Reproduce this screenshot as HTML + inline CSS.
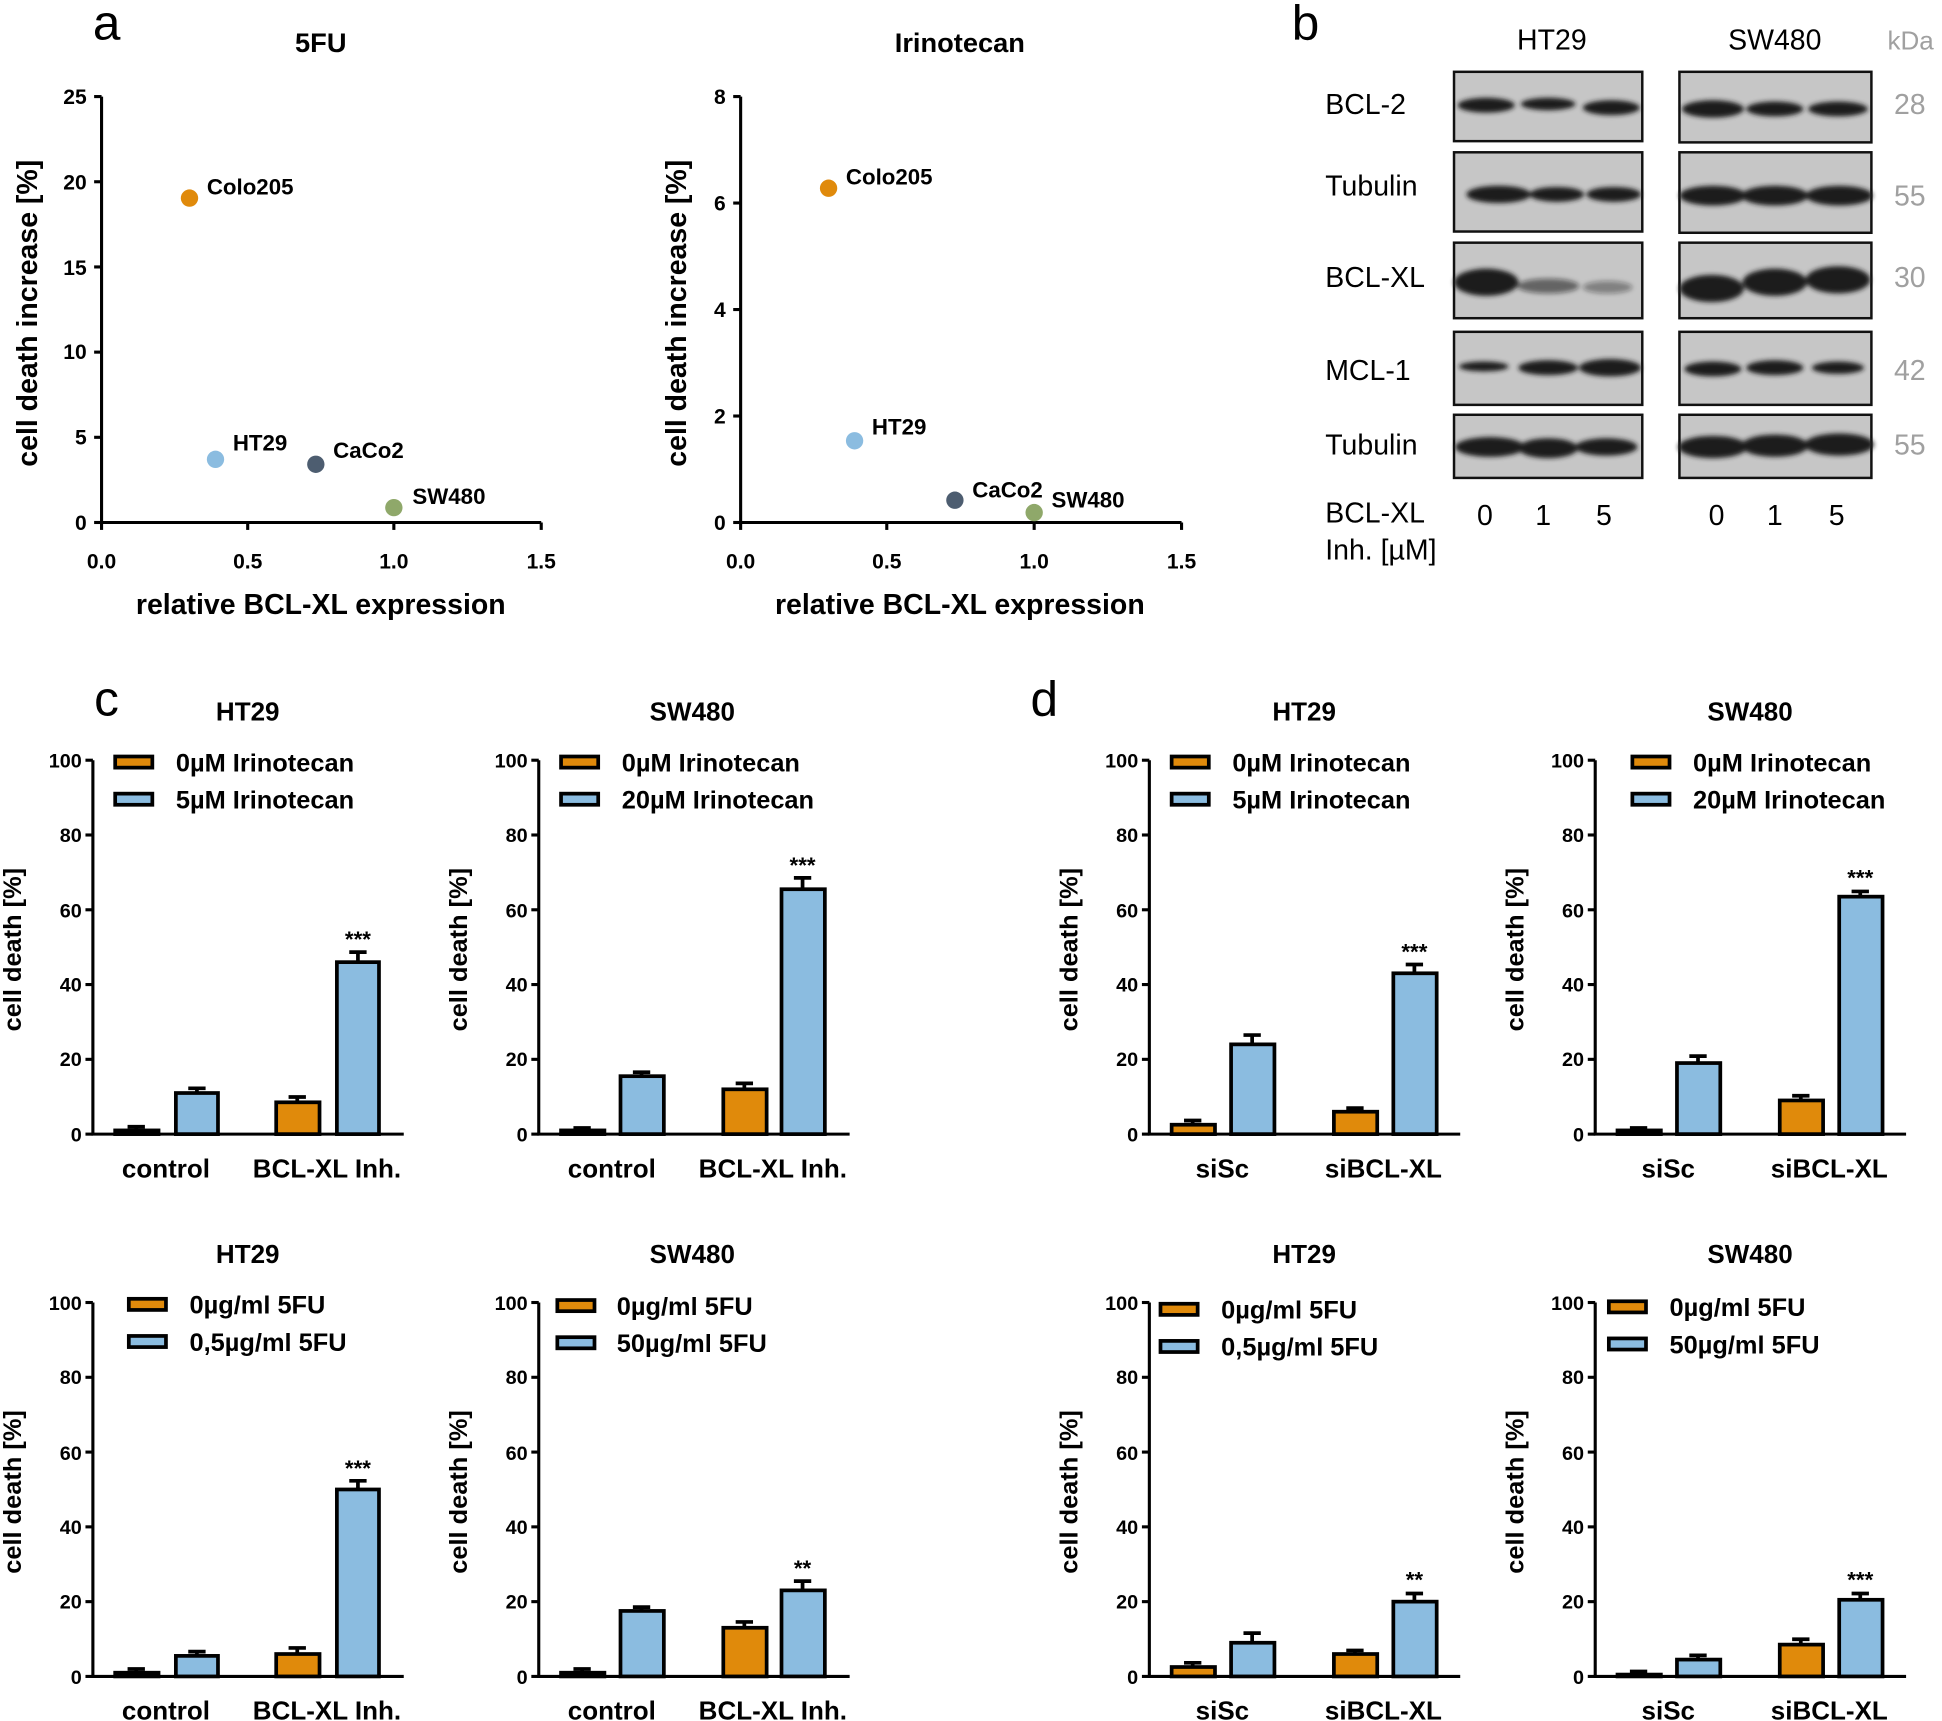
<!DOCTYPE html>
<html><head><meta charset="utf-8"><style>
html,body{margin:0;padding:0;background:#fff}
svg{display:block}
text{font-family:"Liberation Sans",Arial,sans-serif}
.t{font-size:16px;font-weight:bold;text-anchor:end}
.c{font-size:21px;font-weight:bold;text-anchor:middle}
.lg{font-size:20.5px;font-weight:bold}
.yl{font-size:20.5px;font-weight:bold;text-anchor:middle}
.bl{font-size:23px}
.kd{font-size:23px;fill:#a0a0a0}
.ax line,.ax path{stroke:#000;stroke-width:2.5;fill:none}
.o{fill:#E08A0B;stroke:#000;stroke-width:3}
.u{fill:#8BBCE0;stroke:#000;stroke-width:3}
.e{stroke:#000;stroke-width:3;fill:none}
.band{fill:#1a1a1a}
.blot{fill:#c6c6c6;stroke:#111;stroke-width:2}
</style></head><body>
<svg width="1942" height="1721" viewBox="0 0 1568 1390" preserveAspectRatio="none" xmlns="http://www.w3.org/2000/svg">
<defs><filter id="bl" x="-20%" y="-50%" width="140%" height="200%"><feGaussianBlur stdDeviation="2"/></filter></defs>
<!-- panel a -->
<text x="75" y="32" font-size="40">a</text>
<text x="259" y="42" class="c" style="font-size:22px">5FU</text>
<g class="ax"><path d="M82,78 V422 H437"/>
<line x1="76" y1="422" x2="82" y2="422"/><line x1="76" y1="353.2" x2="82" y2="353.2"/><line x1="76" y1="284.4" x2="82" y2="284.4"/><line x1="76" y1="215.6" x2="82" y2="215.6"/><line x1="76" y1="146.8" x2="82" y2="146.8"/><line x1="76" y1="78" x2="82" y2="78"/>
<line x1="82" y1="422" x2="82" y2="428"/><line x1="200" y1="422" x2="200" y2="428"/><line x1="318" y1="422" x2="318" y2="428"/><line x1="437" y1="422" x2="437" y2="428"/></g>
<g class="t" style="font-size:17px"><text x="70" y="428">0</text><text x="70" y="359">5</text><text x="70" y="290">10</text><text x="70" y="222">15</text><text x="70" y="153">20</text><text x="70" y="84">25</text></g>
<g class="c" style="font-size:17px"><text x="82" y="459">0.0</text><text x="200" y="459">0.5</text><text x="318" y="459">1.0</text><text x="437" y="459">1.5</text></g>
<text x="259" y="496" class="c" style="font-size:23px">relative BCL-XL expression</text>
<text transform="translate(30,253) rotate(-90)" class="yl" style="font-size:23px">cell death increase [%]</text>
<circle cx="153" cy="160" r="7" fill="#E08A0B"/><circle cx="174" cy="371" r="7" fill="#8BBCE0"/><circle cx="255" cy="375" r="7" fill="#4d5d70"/><circle cx="318" cy="410" r="7" fill="#8fa86a"/>
<g class="lg" style="font-size:18px"><text x="167" y="157">Colo205</text><text x="188" y="364">HT29</text><text x="269" y="370">CaCo2</text><text x="333" y="407">SW480</text></g>

<text x="775" y="42" class="c" style="font-size:22px">Irinotecan</text>
<g class="ax"><path d="M598,78 V422 H954"/>
<line x1="592" y1="422" x2="598" y2="422"/><line x1="592" y1="336" x2="598" y2="336"/><line x1="592" y1="250" x2="598" y2="250"/><line x1="592" y1="164" x2="598" y2="164"/><line x1="592" y1="78" x2="598" y2="78"/>
<line x1="598" y1="422" x2="598" y2="428"/><line x1="716" y1="422" x2="716" y2="428"/><line x1="835" y1="422" x2="835" y2="428"/><line x1="954" y1="422" x2="954" y2="428"/></g>
<g class="t" style="font-size:17px"><text x="586" y="428">0</text><text x="586" y="342">2</text><text x="586" y="256">4</text><text x="586" y="170">6</text><text x="586" y="84">8</text></g>
<g class="c" style="font-size:17px"><text x="598" y="459">0.0</text><text x="716" y="459">0.5</text><text x="835" y="459">1.0</text><text x="954" y="459">1.5</text></g>
<text x="775" y="496" class="c" style="font-size:23px">relative BCL-XL expression</text>
<text transform="translate(554,253) rotate(-90)" class="yl" style="font-size:23px">cell death increase [%]</text>
<circle cx="669" cy="152" r="7" fill="#E08A0B"/><circle cx="690" cy="356" r="7" fill="#8BBCE0"/><circle cx="771" cy="404" r="7" fill="#4d5d70"/><circle cx="835" cy="414" r="7" fill="#8fa86a"/>
<g class="lg" style="font-size:18px"><text x="683" y="149">Colo205</text><text x="704" y="351">HT29</text><text x="785" y="402">CaCo2</text><text x="849" y="410">SW480</text></g>

<!-- panel b -->
<text x="1043" y="32" font-size="40">b</text>
<text x="1253" y="40" class="bl" text-anchor="middle">HT29</text>
<text x="1433" y="40" class="bl" text-anchor="middle">SW480</text>
<text x="1524" y="40" class="kd" style="font-size:21px">kDa</text>
<g class="bl"><text x="1070" y="92">BCL-2</text><text x="1070" y="158">Tubulin</text><text x="1070" y="232">BCL-XL</text><text x="1070" y="307">MCL-1</text><text x="1070" y="367">Tubulin</text>
<text x="1070" y="422">BCL-XL</text><text x="1070" y="452">Inh. [µM]</text>
<text x="1199" y="424" text-anchor="middle">0</text><text x="1246" y="424" text-anchor="middle">1</text><text x="1295" y="424" text-anchor="middle">5</text>
<text x="1386" y="424" text-anchor="middle">0</text><text x="1433" y="424" text-anchor="middle">1</text><text x="1483" y="424" text-anchor="middle">5</text></g>
<g class="kd" text-anchor="middle"><text x="1542" y="92">28</text><text x="1542" y="166">55</text><text x="1542" y="232">30</text><text x="1542" y="307">42</text><text x="1542" y="367">55</text></g>
<rect class="blot" x="1174" y="58" width="152" height="56"/><rect class="blot" x="1356" y="58" width="155" height="57"/>
<rect class="blot" x="1174" y="123" width="152" height="64"/><rect class="blot" x="1356" y="123" width="155" height="65"/>
<rect class="blot" x="1174" y="196" width="152" height="61"/><rect class="blot" x="1356" y="196" width="155" height="61"/>
<rect class="blot" x="1174" y="268" width="152" height="59"/><rect class="blot" x="1356" y="268" width="155" height="59"/>
<rect class="blot" x="1174" y="335" width="152" height="51"/><rect class="blot" x="1356" y="335" width="155" height="51"/>
<g class="band" filter="url(#bl)">
<ellipse cx="1200" cy="85" rx="23" ry="6"/><ellipse cx="1250" cy="84" rx="22" ry="5"/><ellipse cx="1301" cy="87" rx="23" ry="6"/>
<ellipse cx="1383" cy="88" rx="25" ry="7"/><ellipse cx="1433" cy="88" rx="23" ry="6"/><ellipse cx="1484" cy="88" rx="24" ry="6"/>
<ellipse cx="1210" cy="157" rx="26" ry="7"/><ellipse cx="1257" cy="157" rx="22" ry="6"/><ellipse cx="1303" cy="157" rx="22" ry="6"/>
<ellipse cx="1383" cy="158" rx="27" ry="8"/><ellipse cx="1433" cy="158" rx="27" ry="8"/><ellipse cx="1485" cy="158" rx="27" ry="8"/>
<ellipse cx="1200" cy="228" rx="26" ry="11"/><ellipse cx="1250" cy="231" rx="25" ry="6" opacity=".55"/><ellipse cx="1298" cy="232" rx="20" ry="5" opacity=".4"/>
<ellipse cx="1382" cy="233" rx="26" ry="11"/><ellipse cx="1433" cy="228" rx="26" ry="11"/><ellipse cx="1484" cy="226" rx="26" ry="11"/>
<ellipse cx="1198" cy="296" rx="20" ry="4"/><ellipse cx="1250" cy="297" rx="24" ry="6"/><ellipse cx="1300" cy="297" rx="25" ry="7"/>
<ellipse cx="1383" cy="298" rx="23" ry="6"/><ellipse cx="1433" cy="297" rx="23" ry="6"/><ellipse cx="1484" cy="297" rx="21" ry="5"/>
<ellipse cx="1203" cy="361" rx="28" ry="8"/><ellipse cx="1250" cy="362" rx="24" ry="8"/><ellipse cx="1297" cy="361" rx="25" ry="7"/>
<ellipse cx="1383" cy="361" rx="28" ry="9"/><ellipse cx="1433" cy="360" rx="27" ry="9"/><ellipse cx="1485" cy="359" rx="28" ry="9"/>
</g>

<text x="76" y="578" font-size="40">c</text>
<text x="832" y="578" font-size="40">d</text>

<!-- Row 1 -->
<text x="200" y="582" class="c">HT29</text>
<text transform="translate(17,767) rotate(-90)" class="yl">cell death [%]</text>
<rect x="93" y="611" width="30" height="9" class="o"/><rect x="93" y="641" width="30" height="9" class="u"/>
<text x="142" y="623" class="lg">0µM Irinotecan</text><text x="142" y="653" class="lg">5µM Irinotecan</text>
<g transform="translate(75,916)">
<g class="ax"><path d="M0,-302 V0 H251"/><line x1="-6" y1="0" x2="0" y2="0"/><line x1="-6" y1="-60.4" x2="0" y2="-60.4"/><line x1="-6" y1="-120.8" x2="0" y2="-120.8"/><line x1="-6" y1="-181.2" x2="0" y2="-181.2"/><line x1="-6" y1="-241.6" x2="0" y2="-241.6"/><line x1="-6" y1="-302" x2="0" y2="-302"/></g>
<g class="t"><text x="-9" y="6">0</text><text x="-9" y="-55">20</text><text x="-9" y="-115">40</text><text x="-9" y="-175">60</text><text x="-9" y="-236">80</text><text x="-9" y="-296">100</text></g>
<rect class="o" x="18" y="-3" width="35" height="3"/><path class="e" d="M35,-3V-6M28,-6H42"/>
<rect class="u" x="67" y="-33.2" width="34" height="33.2"/><path class="e" d="M84,-33V-37M77,-37H91"/>
<rect class="o" x="148" y="-25.7" width="35" height="25.7"/><path class="e" d="M165,-26V-30M158,-30H172"/>
<rect class="u" x="197" y="-138.9" width="34" height="138.9"/><path class="e" d="M214,-139V-147M207,-147H221"/>
<text x="214" y="-151" class="c" style="font-size:18px">***</text>
<text x="59" y="35" class="c">control</text><text x="189" y="35" class="c">BCL-XL Inh.</text></g>

<text x="559" y="582" class="c">SW480</text>
<text transform="translate(377,767) rotate(-90)" class="yl">cell death [%]</text>
<rect x="453" y="611" width="30" height="9" class="o"/><rect x="453" y="641" width="30" height="9" class="u"/>
<text x="502" y="623" class="lg">0µM Irinotecan</text><text x="502" y="653" class="lg">20µM Irinotecan</text>
<g transform="translate(435,916)">
<g class="ax"><path d="M0,-302 V0 H251"/><line x1="-6" y1="0" x2="0" y2="0"/><line x1="-6" y1="-60.4" x2="0" y2="-60.4"/><line x1="-6" y1="-120.8" x2="0" y2="-120.8"/><line x1="-6" y1="-181.2" x2="0" y2="-181.2"/><line x1="-6" y1="-241.6" x2="0" y2="-241.6"/><line x1="-6" y1="-302" x2="0" y2="-302"/></g>
<g class="t"><text x="-9" y="6">0</text><text x="-9" y="-55">20</text><text x="-9" y="-115">40</text><text x="-9" y="-175">60</text><text x="-9" y="-236">80</text><text x="-9" y="-296">100</text></g>
<rect class="o" x="18" y="-3" width="35" height="3"/><path class="e" d="M35,-3V-5M28,-5H42"/>
<rect class="u" x="66" y="-46.8" width="35" height="46.8"/><path class="e" d="M83,-47V-50M76,-50H90"/>
<rect class="o" x="149" y="-36.2" width="35" height="36.2"/><path class="e" d="M166,-36V-41M159,-41H173"/>
<rect class="u" x="196" y="-197.8" width="35" height="197.8"/><path class="e" d="M213,-198V-207M206,-207H220"/>
<text x="213" y="-211" class="c" style="font-size:18px">***</text>
<text x="59" y="35" class="c">control</text><text x="189" y="35" class="c">BCL-XL Inh.</text></g>

<text x="1053" y="582" class="c">HT29</text>
<text transform="translate(870,767) rotate(-90)" class="yl">cell death [%]</text>
<rect x="946" y="611" width="30" height="9" class="o"/><rect x="946" y="641" width="30" height="9" class="u"/>
<text x="995" y="623" class="lg">0µM Irinotecan</text><text x="995" y="653" class="lg">5µM Irinotecan</text>
<g transform="translate(928,916)">
<g class="ax"><path d="M0,-302 V0 H251"/><line x1="-6" y1="0" x2="0" y2="0"/><line x1="-6" y1="-60.4" x2="0" y2="-60.4"/><line x1="-6" y1="-120.8" x2="0" y2="-120.8"/><line x1="-6" y1="-181.2" x2="0" y2="-181.2"/><line x1="-6" y1="-241.6" x2="0" y2="-241.6"/><line x1="-6" y1="-302" x2="0" y2="-302"/></g>
<g class="t"><text x="-9" y="6">0</text><text x="-9" y="-55">20</text><text x="-9" y="-115">40</text><text x="-9" y="-175">60</text><text x="-9" y="-236">80</text><text x="-9" y="-296">100</text></g>
<rect class="o" x="18" y="-7.6" width="35" height="7.6"/><path class="e" d="M35,-8V-11M28,-11H42"/>
<rect class="u" x="66" y="-72.5" width="35" height="72.5"/><path class="e" d="M83,-72V-80M76,-80H90"/>
<rect class="o" x="149" y="-18.1" width="35" height="18.1"/><path class="e" d="M166,-18V-21M159,-21H173"/>
<rect class="u" x="197" y="-129.9" width="35" height="129.9"/><path class="e" d="M214,-130V-137M207,-137H221"/>
<text x="214" y="-141" class="c" style="font-size:18px">***</text>
<text x="59" y="35" class="c">siSc</text><text x="189" y="35" class="c">siBCL-XL</text></g>

<text x="1413" y="582" class="c">SW480</text>
<text transform="translate(1230,767) rotate(-90)" class="yl">cell death [%]</text>
<rect x="1318" y="611" width="30" height="9" class="o"/><rect x="1318" y="641" width="30" height="9" class="u"/>
<text x="1367" y="623" class="lg">0µM Irinotecan</text><text x="1367" y="653" class="lg">20µM Irinotecan</text>
<g transform="translate(1288,916)">
<g class="ax"><path d="M0,-302 V0 H251"/><line x1="-6" y1="0" x2="0" y2="0"/><line x1="-6" y1="-60.4" x2="0" y2="-60.4"/><line x1="-6" y1="-120.8" x2="0" y2="-120.8"/><line x1="-6" y1="-181.2" x2="0" y2="-181.2"/><line x1="-6" y1="-241.6" x2="0" y2="-241.6"/><line x1="-6" y1="-302" x2="0" y2="-302"/></g>
<g class="t"><text x="-9" y="6">0</text><text x="-9" y="-55">20</text><text x="-9" y="-115">40</text><text x="-9" y="-175">60</text><text x="-9" y="-236">80</text><text x="-9" y="-296">100</text></g>
<rect class="o" x="18" y="-3" width="35" height="3"/><path class="e" d="M35,-3V-5M28,-5H42"/>
<rect class="u" x="66" y="-57.4" width="35" height="57.4"/><path class="e" d="M83,-57V-63M76,-63H90"/>
<rect class="o" x="149" y="-27.2" width="35" height="27.2"/><path class="e" d="M166,-27V-31M159,-31H173"/>
<rect class="u" x="197" y="-191.8" width="35" height="191.8"/><path class="e" d="M214,-192V-196M207,-196H221"/>
<text x="214" y="-201" class="c" style="font-size:18px">***</text>
<text x="59" y="35" class="c">siSc</text><text x="189" y="35" class="c">siBCL-XL</text></g>

<!-- Row 2 -->
<text x="200" y="1020" class="c">HT29</text>
<text transform="translate(17,1205) rotate(-90)" class="yl">cell death [%]</text>
<rect x="104" y="1049" width="30" height="9" class="o"/><rect x="104" y="1079" width="30" height="9" class="u"/>
<text x="153" y="1061" class="lg">0µg/ml 5FU</text><text x="153" y="1091" class="lg">0,5µg/ml 5FU</text>
<g transform="translate(75,1354)">
<g class="ax"><path d="M0,-302 V0 H251"/><line x1="-6" y1="0" x2="0" y2="0"/><line x1="-6" y1="-60.4" x2="0" y2="-60.4"/><line x1="-6" y1="-120.8" x2="0" y2="-120.8"/><line x1="-6" y1="-181.2" x2="0" y2="-181.2"/><line x1="-6" y1="-241.6" x2="0" y2="-241.6"/><line x1="-6" y1="-302" x2="0" y2="-302"/></g>
<g class="t"><text x="-9" y="6">0</text><text x="-9" y="-55">20</text><text x="-9" y="-115">40</text><text x="-9" y="-175">60</text><text x="-9" y="-236">80</text><text x="-9" y="-296">100</text></g>
<rect class="o" x="18" y="-3" width="35" height="3"/><path class="e" d="M35,-3V-6M28,-6H42"/>
<rect class="u" x="67" y="-16.6" width="34" height="16.6"/><path class="e" d="M84,-17V-20M77,-20H91"/>
<rect class="o" x="148" y="-18.1" width="35" height="18.1"/><path class="e" d="M165,-18V-23M158,-23H172"/>
<rect class="u" x="197" y="-151" width="34" height="151"/><path class="e" d="M214,-151V-158M207,-158H221"/>
<text x="214" y="-162" class="c" style="font-size:18px">***</text>
<text x="59" y="35" class="c">control</text><text x="189" y="35" class="c">BCL-XL Inh.</text></g>

<text x="559" y="1020" class="c">SW480</text>
<text transform="translate(377,1205) rotate(-90)" class="yl">cell death [%]</text>
<rect x="450" y="1050" width="30" height="9" class="o"/><rect x="450" y="1080" width="30" height="9" class="u"/>
<text x="498" y="1062" class="lg">0µg/ml 5FU</text><text x="498" y="1092" class="lg">50µg/ml 5FU</text>
<g transform="translate(435,1354)">
<g class="ax"><path d="M0,-302 V0 H251"/><line x1="-6" y1="0" x2="0" y2="0"/><line x1="-6" y1="-60.4" x2="0" y2="-60.4"/><line x1="-6" y1="-120.8" x2="0" y2="-120.8"/><line x1="-6" y1="-181.2" x2="0" y2="-181.2"/><line x1="-6" y1="-241.6" x2="0" y2="-241.6"/><line x1="-6" y1="-302" x2="0" y2="-302"/></g>
<g class="t"><text x="-9" y="6">0</text><text x="-9" y="-55">20</text><text x="-9" y="-115">40</text><text x="-9" y="-175">60</text><text x="-9" y="-236">80</text><text x="-9" y="-296">100</text></g>
<rect class="o" x="18" y="-3" width="35" height="3"/><path class="e" d="M35,-3V-6M28,-6H42"/>
<rect class="u" x="66" y="-52.9" width="35" height="52.9"/><path class="e" d="M83,-53V-56M76,-56H90"/>
<rect class="o" x="149" y="-39.3" width="35" height="39.3"/><path class="e" d="M166,-39V-44M159,-44H173"/>
<rect class="u" x="196" y="-69.5" width="35" height="69.5"/><path class="e" d="M213,-70V-77M206,-77H220"/>
<text x="213" y="-81" class="c" style="font-size:18px">**</text>
<text x="59" y="35" class="c">control</text><text x="189" y="35" class="c">BCL-XL Inh.</text></g>

<text x="1053" y="1020" class="c">HT29</text>
<text transform="translate(870,1205) rotate(-90)" class="yl">cell death [%]</text>
<rect x="937" y="1053" width="30" height="9" class="o"/><rect x="937" y="1083" width="30" height="9" class="u"/>
<text x="986" y="1065" class="lg">0µg/ml 5FU</text><text x="986" y="1095" class="lg">0,5µg/ml 5FU</text>
<g transform="translate(928,1354)">
<g class="ax"><path d="M0,-302 V0 H251"/><line x1="-6" y1="0" x2="0" y2="0"/><line x1="-6" y1="-60.4" x2="0" y2="-60.4"/><line x1="-6" y1="-120.8" x2="0" y2="-120.8"/><line x1="-6" y1="-181.2" x2="0" y2="-181.2"/><line x1="-6" y1="-241.6" x2="0" y2="-241.6"/><line x1="-6" y1="-302" x2="0" y2="-302"/></g>
<g class="t"><text x="-9" y="6">0</text><text x="-9" y="-55">20</text><text x="-9" y="-115">40</text><text x="-9" y="-175">60</text><text x="-9" y="-236">80</text><text x="-9" y="-296">100</text></g>
<rect class="o" x="18" y="-7.6" width="35" height="7.6"/><path class="e" d="M35,-8V-11M28,-11H42"/>
<rect class="u" x="66" y="-27.2" width="35" height="27.2"/><path class="e" d="M83,-27V-35M76,-35H90"/>
<rect class="o" x="149" y="-18.1" width="35" height="18.1"/><path class="e" d="M166,-18V-21M159,-21H173"/>
<rect class="u" x="197" y="-60.4" width="35" height="60.4"/><path class="e" d="M214,-60V-67M207,-67H221"/>
<text x="214" y="-72" class="c" style="font-size:18px">**</text>
<text x="59" y="35" class="c">siSc</text><text x="189" y="35" class="c">siBCL-XL</text></g>

<text x="1413" y="1020" class="c">SW480</text>
<text transform="translate(1230,1205) rotate(-90)" class="yl">cell death [%]</text>
<rect x="1299" y="1051" width="30" height="9" class="o"/><rect x="1299" y="1081" width="30" height="9" class="u"/>
<text x="1348" y="1063" class="lg">0µg/ml 5FU</text><text x="1348" y="1093" class="lg">50µg/ml 5FU</text>
<g transform="translate(1288,1354)">
<g class="ax"><path d="M0,-302 V0 H251"/><line x1="-6" y1="0" x2="0" y2="0"/><line x1="-6" y1="-60.4" x2="0" y2="-60.4"/><line x1="-6" y1="-120.8" x2="0" y2="-120.8"/><line x1="-6" y1="-181.2" x2="0" y2="-181.2"/><line x1="-6" y1="-241.6" x2="0" y2="-241.6"/><line x1="-6" y1="-302" x2="0" y2="-302"/></g>
<g class="t"><text x="-9" y="6">0</text><text x="-9" y="-55">20</text><text x="-9" y="-115">40</text><text x="-9" y="-175">60</text><text x="-9" y="-236">80</text><text x="-9" y="-296">100</text></g>
<rect class="o" x="18" y="-1.5" width="35" height="1.5"/><path class="e" d="M35,-2V-4M28,-4H42"/>
<rect class="u" x="66" y="-13.6" width="35" height="13.6"/><path class="e" d="M83,-14V-17M76,-17H90"/>
<rect class="o" x="149" y="-25.7" width="35" height="25.7"/><path class="e" d="M166,-26V-30M159,-30H173"/>
<rect class="u" x="197" y="-61.9" width="35" height="61.9"/><path class="e" d="M214,-62V-67M207,-67H221"/>
<text x="214" y="-72" class="c" style="font-size:18px">***</text>
<text x="59" y="35" class="c">siSc</text><text x="189" y="35" class="c">siBCL-XL</text></g>
</svg>
</body></html>
